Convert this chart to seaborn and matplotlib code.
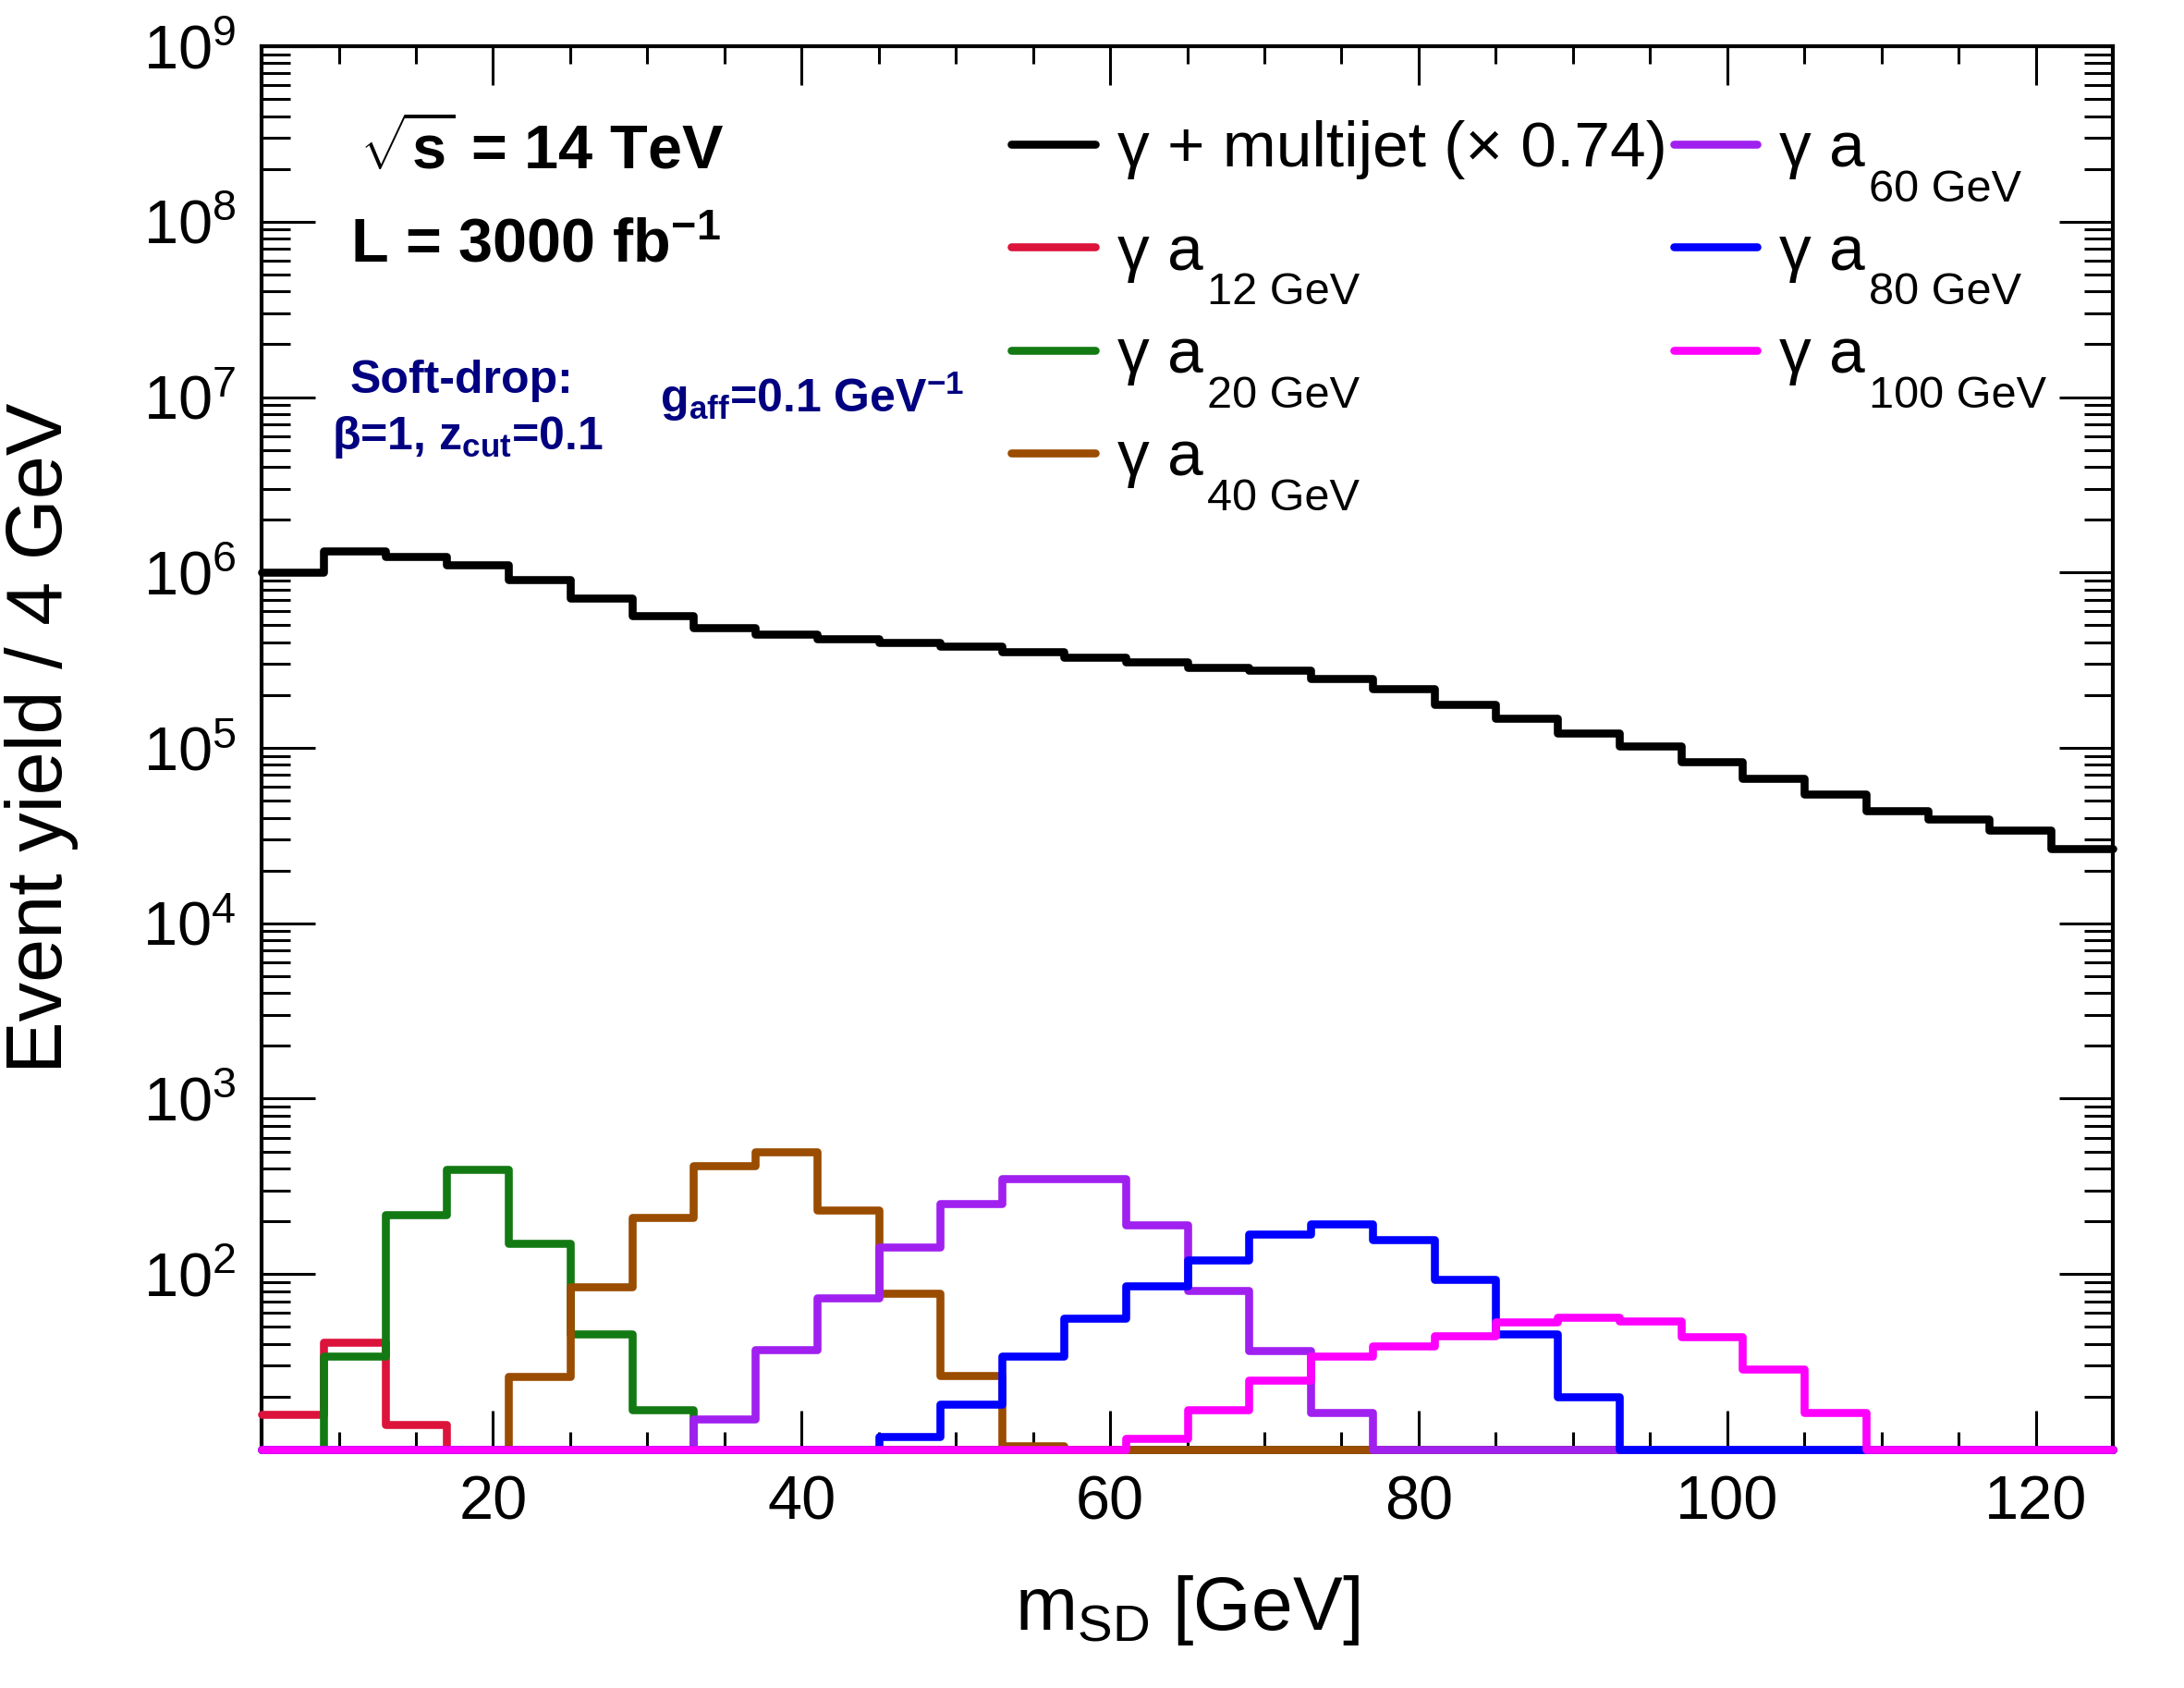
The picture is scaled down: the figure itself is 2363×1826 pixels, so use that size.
import numpy as np
import pandas as pd
import matplotlib
matplotlib.use("Agg")
import matplotlib.pyplot as plt
import matplotlib.ticker as mticker
import seaborn as sns

# 4 GeV bins from 5 to 125 GeV
edges = np.arange(5, 126, 4)

multijet = [1.0e6, 1.33e6, 1.23e6, 1.11e6, 9.1e5, 7.1e5, 5.7e5, 4.85e5, 4.46e5, 4.2e5,
            3.98e5, 3.78e5, 3.52e5, 3.3e5, 3.08e5, 2.88e5, 2.77e5, 2.49e5, 2.17e5, 1.77e5,
            1.47e5, 1.22e5, 1.03e5, 8.3e4, 6.7e4, 5.45e4, 4.36e4, 3.94e4, 3.4e4, 2.68e4]
a12 = [15.8, 40.8, 13.8] + [0] * 27
a20 = [0, 33.9, 219, 396, 150, 45.3, 16.8] + [0] * 23
a40 = [0] * 4 + [26.2, 84.4, 210, 415, 495, 232, 77.3, 26.5, 10.5] + [0] * 17
a60 = [0] * 7 + [14.9, 37, 73.6, 142.6, 252, 352, 351, 191, 80.7, 36.7, 16.3] + [0] * 12
a80 = [0] * 10 + [11.8, 18.2, 34.1, 56.1, 85.7, 120, 168, 192, 157, 92.9, 45.5, 20] + [0] * 8
a100 = [0] * 14 + [11.5, 16.9, 24.7, 33.9, 38.8, 44.6, 53.1, 56.6, 53.7, 44.1, 28.6, 16.2] + [0] * 4

main_labels = ["γ + multijet (× 0.74)"] + ["γ a"] * 6
sub_labels = ["", "12 GeV", "20 GeV", "40 GeV", "60 GeV", "80 GeV", "100 GeV"]
colors = ["black", "#dc143c", "#137a13", "#9a4c00", "#a020f0", "#0000ff", "#ff00ff"]

sns.set_style("ticks")
plt.rcParams["font.family"] = ["Liberation Sans", "DejaVu Sans"]
plt.rcParams["mathtext.fontset"] = "custom"
plt.rcParams["mathtext.rm"] = "Liberation Sans"
plt.rcParams["mathtext.it"] = "Liberation Sans:italic"
plt.rcParams["mathtext.bf"] = "Liberation Sans:bold"
plt.rcParams["mathtext.default"] = "regular"
for key in ["text.color", "axes.labelcolor", "xtick.color", "ytick.color", "axes.edgecolor"]:
    plt.rcParams[key] = "black"

ymin, ymax = 10, 1e9

fig = plt.figure(figsize=(11.815, 9.13), dpi=200)
ax = fig.add_axes([0.1198, 0.1413, 0.8476, 0.8313])
ax.set_yscale("log")

all_series = [multijet, a12, a20, a40, a60, a80, a100]
for i, (vals, lab, col) in enumerate(zip(all_series, main_labels, colors)):
    # empty bins sit on the axis floor, like ROOT draws them
    h = np.clip(np.asarray(vals, dtype=float), ymin, None)
    df = pd.DataFrame({"m": edges, "y": np.append(h, h[-1])})
    sns.lineplot(data=df, x="m", y="y", drawstyle="steps-post", color=col,
                 linewidth=3.1, label=lab, ax=ax, clip_on=False, zorder=3 + i,
                 sort=False, estimator=None)

ax.set_xlim(5, 125)
ax.set_ylim(ymin, ymax)

ax.xaxis.set_major_locator(mticker.MultipleLocator(20))
ax.xaxis.set_minor_locator(mticker.MultipleLocator(5))
ax.yaxis.set_major_locator(mticker.FixedLocator([10.0 ** k for k in range(2, 10)]))
ax.yaxis.set_major_formatter(mticker.LogFormatterMathtext())
ax.yaxis.set_minor_locator(mticker.LogLocator(base=10, subs=np.arange(2, 10), numticks=20))
ax.yaxis.set_minor_formatter(mticker.NullFormatter())

ax.tick_params(which="both", direction="in", top=True, right=True, width=1.1, labelsize=24)
ax.xaxis.set_tick_params(which="major", length=15, pad=10)
ax.xaxis.set_tick_params(which="minor", length=7)
ax.yaxis.set_tick_params(which="major", length=21, pad=10)
ax.yaxis.set_tick_params(which="minor", length=11)
for sp in ax.spines.values():
    sp.set_linewidth(1.5)

ax.set_xlabel(r"m$_{SD}$ [GeV]", fontsize=29)
ax.set_ylabel("Event yield / 4 GeV", fontsize=30.5)
ax.xaxis.set_label_coords(0.5, -0.088)
ax.yaxis.set_label_coords(-0.099, 0.507)

ax.text(0.053, 0.913, r"$\sqrt{\mathbf{s}}$ = 14 TeV", transform=ax.transAxes,
        fontsize=24, fontweight="bold", va="baseline")
ax.text(0.048, 0.846, r"L = 3000 fb$^{\mathbf{-1}}$", transform=ax.transAxes,
        fontsize=24, fontweight="bold", va="baseline")
navy = "#000080"
ax.text(0.108, 0.753, "Soft-drop:", transform=ax.transAxes, fontsize=18,
        fontweight="bold", color=navy, ha="center", va="baseline")
ax.text(0.038, 0.713, r"β=1, z$_{\mathbf{cut}}$=0.1", transform=ax.transAxes, fontsize=18,
        fontweight="bold", color=navy, va="baseline")
ax.text(0.215, 0.739, r"g$_{\mathbf{aff}}$=0.1 GeV$^{\mathbf{-1}}$", transform=ax.transAxes,
        fontsize=18, fontweight="bold", color=navy, va="baseline")

handles, labs = ax.get_legend_handles_labels()
leg = ax.legend(handles, labs, ncol=2, frameon=False, fontsize=25, loc="upper left",
                bbox_to_anchor=(0.405, 0.947), borderaxespad=0, borderpad=0,
                handlelength=1.3, handletextpad=0.35, columnspacing=0.1, labelspacing=0.68)
# ROOT-style low subscripts on the legend entries
for txt, sub in zip(leg.get_texts(), sub_labels):
    if sub:
        ax.annotate(sub, xy=(1, 0), xycoords=txt, xytext=(1.5, -8.5),
                    textcoords="offset points", fontsize=17.5, va="baseline",
                    zorder=10, annotation_clip=False)

fig.canvas.draw()
fig.savefig("out.png", dpi=200)
